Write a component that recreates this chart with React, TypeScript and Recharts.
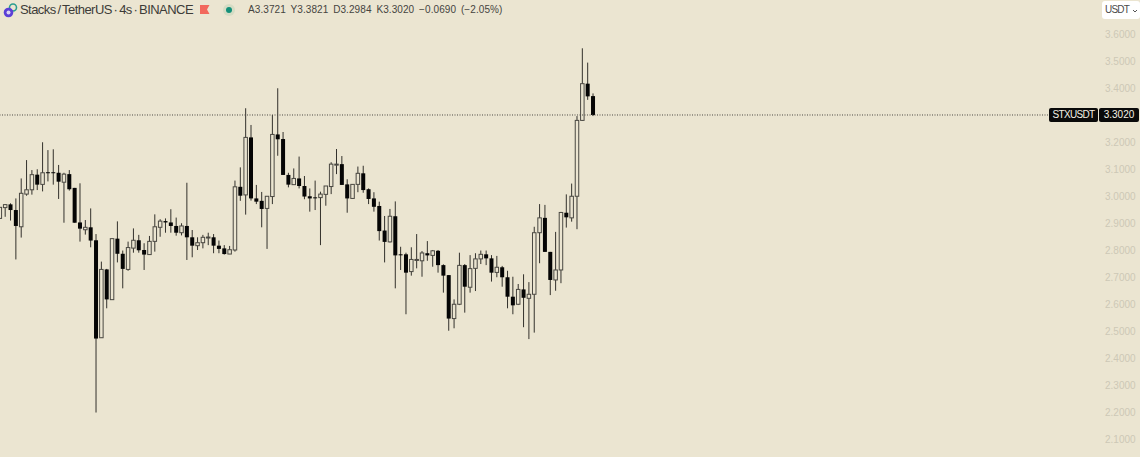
import { ComposedChart, Bar, XAxis, YAxis, ReferenceLine } from 'recharts';

const BG = '#ebe5d1';

const opens = [
  2.919, 2.959, 2.971, 2.95, 2.888, 3.009, 3.025, 3.081, 3.045, 3.09,
  3.09, 3.088, 3.053, 3.083, 3.032, 2.904, 2.877, 2.886, 2.838, 2.477,
  2.73, 2.618, 2.844, 2.788, 2.73, 2.809, 2.838, 2.802, 2.785, 2.834,
  2.886, 2.909, 2.904, 2.891, 2.866, 2.891, 2.849, 2.818, 2.829, 2.849,
  2.849, 2.818, 2.808, 2.787, 2.802, 3.036, 3.006, 3.219, 2.993, 2.984,
  2.956, 3.0, 3.23, 3.213, 3.08, 3.044, 3.067, 3.039, 3.001, 2.997,
  2.996, 3.008, 3.037, 3.119, 3.12, 3.045, 2.993, 3.045, 3.086, 3.027,
  2.993, 2.965, 2.874, 2.832, 2.927, 2.786, 2.786, 2.722, 2.766, 2.762,
  2.79, 2.782, 2.799, 2.746, 2.709, 2.548, 2.601, 2.746, 2.664, 2.734,
  2.769, 2.786, 2.771, 2.719, 2.738, 2.701, 2.629, 2.601, 2.656, 2.623,
  2.638, 2.866, 2.921, 2.795, 2.691, 2.728, 2.94, 2.921, 3.001, 3.282,
  3.418, 3.372,
];
const highs = [
  2.96, 2.972, 2.975, 2.993, 3.067, 3.135, 3.098, 3.101, 3.201, 3.172,
  3.175, 3.117, 3.088, 3.098, 3.032, 3.049, 2.913, 2.956, 2.861, 2.759,
  2.732, 2.845, 2.908, 2.8, 2.833, 2.882, 2.858, 2.827, 2.854, 2.934,
  2.916, 2.919, 2.953, 2.922, 2.901, 3.051, 2.876, 2.849, 2.858, 2.866,
  2.861, 2.837, 2.82, 2.817, 3.059, 3.108, 3.327, 3.265, 3.043, 3.017,
  3.001, 3.302, 3.401, 3.239, 3.088, 3.104, 3.148, 3.076, 3.03, 3.059,
  3.018, 3.039, 3.127, 3.176, 3.15, 3.064, 3.045, 3.111, 3.114, 3.03,
  3.016, 2.981, 2.928, 2.954, 2.982, 2.814, 2.792, 2.812, 2.861, 2.798,
  2.835, 2.802, 2.802, 2.749, 2.709, 2.619, 2.792, 2.75, 2.783, 2.79,
  2.8, 2.8, 2.783, 2.78, 2.743, 2.725, 2.703, 2.676, 2.712, 2.683,
  2.888, 2.972, 2.969, 2.795, 2.869, 2.943, 3.008, 3.048, 3.298, 3.549,
  3.496, 3.382,
];
const lows = [
  2.919, 2.925, 2.911, 2.767, 2.848, 3.003, 3.007, 3.024, 3.019, 3.056,
  3.044, 2.991, 2.903, 3.022, 2.903, 2.833, 2.859, 2.812, 2.2, 2.477,
  2.586, 2.617, 2.756, 2.66, 2.725, 2.792, 2.792, 2.728, 2.785, 2.796,
  2.851, 2.866, 2.866, 2.855, 2.856, 2.765, 2.775, 2.802, 2.808, 2.82,
  2.79, 2.79, 2.785, 2.787, 2.796, 2.984, 2.933, 2.985, 2.972, 2.886,
  2.806, 2.972, 3.151, 3.08, 3.034, 3.044, 3.03, 2.99, 2.944, 2.95,
  2.82, 2.966, 3.009, 3.083, 3.043, 2.94, 2.993, 3.016, 3.014, 2.972,
  2.944, 2.837, 2.756, 2.83, 2.66, 2.728, 2.564, 2.707, 2.734, 2.703,
  2.762, 2.74, 2.718, 2.644, 2.503, 2.512, 2.598, 2.57, 2.644, 2.65,
  2.75, 2.746, 2.685, 2.701, 2.666, 2.586, 2.564, 2.598, 2.516, 2.472,
  2.496, 2.753, 2.795, 2.635, 2.651, 2.679, 2.885, 2.907, 2.879, 3.28,
  3.358, 3.298,
];
const closes = [
  2.96, 2.97, 2.95, 2.891, 3.012, 3.025, 3.081, 3.044, 3.088, 3.088,
  3.088, 3.055, 3.083, 3.027, 2.903, 2.881, 2.886, 2.837, 2.474, 2.73,
  2.619, 2.844, 2.788, 2.732, 2.811, 2.838, 2.801, 2.785, 2.834, 2.888,
  2.909, 2.904, 2.891, 2.866, 2.891, 2.849, 2.818, 2.829, 2.849, 2.85,
  2.818, 2.806, 2.787, 2.803, 3.036, 3.003, 3.219, 2.993, 2.981, 2.954,
  3.001, 3.23, 3.212, 3.08, 3.044, 3.067, 3.039, 3.0, 2.993, 2.996,
  3.009, 3.039, 3.12, 3.12, 3.043, 2.993, 3.045, 3.086, 3.024, 2.991,
  2.962, 2.872, 2.832, 2.927, 2.782, 2.785, 2.718, 2.767, 2.767, 2.791,
  2.782, 2.799, 2.746, 2.707, 2.548, 2.601, 2.745, 2.666, 2.733, 2.769,
  2.786, 2.771, 2.718, 2.738, 2.701, 2.629, 2.597, 2.656, 2.625, 2.638,
  2.866, 2.921, 2.795, 2.691, 2.728, 2.941, 2.923, 3.001, 3.282, 3.418,
  3.371, 3.302,
];
const priceTicks = [2.1, 2.2, 2.3, 2.4, 2.5, 2.6, 2.7, 2.8, 2.9, 3.0, 3.1, 3.2, 3.3, 3.4, 3.5, 3.6];
const lastPrice = 3.302;

const data = opens.map((open, i) => ({
  slot: i,
  open,
  high: highs[i],
  low: lows[i],
  close: closes[i],
  range: [lows[i], highs[i]],
}));

// the bar spans low..high, open and close are placed inside it
function Candle(props: any) {
  const { x, y, width, height, payload } = props;
  const { open, high, low, close } = payload;
  const cx = x + width / 2;
  const perUnit = height / (high - low);
  const top = y + (high - Math.max(open, close)) * perUnit;
  const bottom = y + (high - Math.min(open, close)) * perUnit;
  const up = close >= open;
  return (
    <g>
      <line x1={cx} x2={cx} y1={y} y2={y + height} stroke="#33312c" strokeWidth={1} />
      {up ? (
        <rect x={cx - 1.75} y={top} width={3.5} height={Math.max(bottom - top, 1)} fill={BG} stroke="#4a4842" strokeWidth={1} />
      ) : (
        <rect x={cx - 2} y={top} width={4} height={Math.max(bottom - top, 1)} fill="#050505" />
      )}
    </g>
  );
}

function Header() {
  return (
    <div style={{ position: 'absolute', left: 0, top: 0, width: 1140, height: 22, fontFamily: '"Liberation Sans", Arial, sans-serif' }}>
      <svg width={18} height={18} style={{ position: 'absolute', left: 2, top: 2 }}>
        <circle cx={11} cy={5.5} r={3.5} fill="none" stroke="#2a9d8f" strokeWidth={1.6} />
        <circle cx={6.5} cy={10.5} r={4.8} fill="#5b3fd6" />
        <circle cx={6.5} cy={10.5} r={2} fill="#d9d2f2" />
      </svg>
      <span style={{ position: 'absolute', left: 20, top: 2, fontSize: 13, lineHeight: '16px', letterSpacing: -0.55, wordSpacing: -1.3, color: '#3d3c38', whiteSpace: 'nowrap' }}>
        Stacks / TetherUS · 4s · BINANCE
      </span>
      <svg width={10} height={10} style={{ position: 'absolute', left: 200, top: 5 }}>
        <path d="M0 0 H9.5 L7 4.5 L9.5 9 H0 Z" fill="#f2685c" />
      </svg>
      <svg width={16} height={16} style={{ position: 'absolute', left: 221, top: 2 }}>
        <circle cx={8} cy={8} r={6} fill="#d5dcc4" />
        <circle cx={8} cy={8} r={3} fill="#14907a" />
      </svg>
      <span style={{ position: 'absolute', left: 248, top: 3, fontSize: 10, lineHeight: '14px', letterSpacing: 0.08, wordSpacing: 2, color: '#45443f', whiteSpace: 'pre' }}>
        A3.3721 Y3.3821 D3.2984 K3.3020 −0.0690 (−2.05%)
      </span>
      <div style={{ position: 'absolute', left: 1102, top: 1, width: 38, height: 18, background: '#fff', borderRadius: 3, fontSize: 10, lineHeight: '18px', color: '#4a4a4a', paddingLeft: 3, boxSizing: 'border-box', letterSpacing: -0.8 }}>
        USDT
        <svg width={6} height={4} style={{ position: 'absolute', left: 30, top: 8 }}>
          <path d="M1 1 L3 3 L5 1" fill="none" stroke="#555" strokeWidth={1} />
        </svg>
      </div>
    </div>
  );
}

function PriceTag() {
  const box = {
    position: 'absolute' as const,
    top: 108,
    height: 14,
    background: '#0a0a0a',
    color: '#f4f0e4',
    lineHeight: '14px',
    textAlign: 'center' as const,
    borderRadius: 2,
    fontSize: 10,
    fontFamily: '"Liberation Sans", Arial, sans-serif',
  };
  return (
    <>
      <div style={{ ...box, left: 1049, width: 49, letterSpacing: -0.7 }}>STXUSDT</div>
      <div style={{ ...box, left: 1099, width: 40 }}>3.3020</div>
    </>
  );
}

export default function App() {
  return (
    <div style={{ position: 'absolute', left: 0, top: 0, width: 1140, height: 457, background: BG, overflow: 'hidden' }}>
      <ComposedChart width={1140} height={457} data={data} margin={{ top: 0, right: 0, bottom: 0, left: 0 }}>
        <XAxis dataKey="slot" type="number" domain={[0, 205.46]} hide />
        <YAxis
          orientation="right"
          width={42}
          domain={[2.0353, 3.7279]}
          ticks={priceTicks}
          interval={0}
          allowDataOverflow
          axisLine={false}
          tickLine={false}
          tickSize={0}
          tickMargin={7}
          tickFormatter={(v: number) => v.toFixed(4)}
          tick={{ fill: '#cdc8b6', fontSize: 10, fontFamily: '"Liberation Sans", Arial, sans-serif' }}
        />
        <ReferenceLine y={lastPrice} stroke="#4a4842" strokeWidth={1} strokeDasharray="1 1.5" />
        <Bar dataKey="range" barSize={5} shape={<Candle />} isAnimationActive={false} />
      </ComposedChart>
      <Header />
      <PriceTag />
    </div>
  );
}
